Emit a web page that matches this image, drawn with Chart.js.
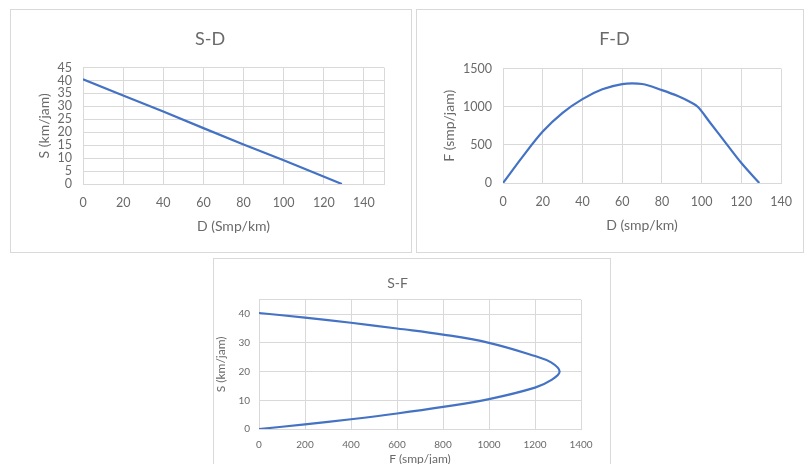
<!DOCTYPE html>
<html lang="id">
<head>
    <meta charset="UTF-8">
    <title>S-D, F-D, S-F</title>
    <script src="https://cdn.jsdelivr.net/npm/chart.js"></script>
    <style>
        body {
            margin: 0;
            background: #ffffff;
            overflow: hidden;
            font-family: Lato, sans-serif;
        }
        .box {
            position: absolute;
            border: 1px solid #d9d9d9;
            background: #ffffff;
        }
        canvas {
            display: block;
        }
    </style>
</head>
<body>

<div class="box" style="left:10px; top:9px;"><canvas id="chartSD" width="400" height="242"></canvas></div>
<div class="box" style="left:416px; top:9px;"><canvas id="chartFD" width="386" height="242"></canvas></div>
<div class="box" style="left:213px; top:258px;"><canvas id="chartSF" width="396" height="214"></canvas></div>

<script>
    // S-D (kecepatan vs kepadatan)
    const sdDensity = [0, 20, 40, 60, 80, 100, 129];
    const sdSpeed = [40.5, 34.2, 28, 21.6, 15.3, 9.2, 0];
    const sdXTicks = [0, 20, 40, 60, 80, 100, 120, 140];
    const sdYTicks = [0, 5, 10, 15, 20, 25, 30, 35, 40, 45];

    // F-D (arus vs kepadatan)
    const fdDensity = [0, 10, 20, 30, 40, 50, 60, 65, 70, 80, 88, 94, 98, 104, 112, 120, 129];
    const fdFlow = [0, 350, 675, 920, 1100, 1228, 1296, 1305, 1298, 1218, 1140, 1065, 1000, 800, 530, 262, 0];
    const fdXTicks = [0, 20, 40, 60, 80, 100, 120, 140];
    const fdYTicks = [0, 500, 1000, 1500];

    // S-F (kecepatan vs arus)
    const sfFlow = [0, 200, 400, 600, 800, 1000, 1200, 1270, 1307, 1270, 1200, 1000, 800, 600, 400, 200, 0];
    const sfSpeed = [40.4, 38.8, 37, 35, 32.9, 30, 25.4, 23.2, 20, 17, 14.4, 10.4, 7.7, 5.4, 3.4, 1.6, 0];
    const sfXTicks = [0, 200, 400, 600, 800, 1000, 1200, 1400];
    const sfYTicks = [0, 10, 20, 30, 40];

    const lineColor = '#4472C4';
    const gridColor = '#d9d9d9';
    const textColor = '#6a6a6a';

    function toPoints(xs, ys) {
        return xs.map((x, i) => ({ x: x, y: ys[i] }));
    }

    // tick list plus the axis end (gridline only, no label)
    function setTicks(list, max) {
        return s => {
            const vals = list.slice();
            if (vals[vals.length - 1] !== max) vals.push(max);
            s.ticks = vals.map(v => ({ value: v }));
        };
    }

    function makeChart(id, opt) {
        const ctx = document.getElementById(id).getContext('2d');
        return new Chart(ctx, {
            type: 'scatter',
            data: {
                datasets: [{
                    data: toPoints(opt.xs, opt.ys),
                    showLine: true,
                    borderColor: lineColor,
                    borderWidth: 2.2,
                    pointRadius: 0,
                    tension: opt.tension,
                    cubicInterpolationMode: opt.mono ? 'monotone' : 'default'
                }]
            },
            options: {
                responsive: false,
                animation: false,
                layout: { padding: opt.padding },
                plugins: {
                    legend: { display: false },
                    tooltip: { enabled: false },
                    title: {
                        display: true,
                        text: opt.title,
                        color: textColor,
                        font: { family: 'Lato', size: opt.titleSize, weight: 'normal' },
                        padding: opt.titlePad
                    }
                },
                scales: {
                    x: {
                        type: 'linear',
                        min: 0,
                        max: opt.xMax,
                        afterBuildTicks: setTicks(opt.xTicks, opt.xMax),
                        grid: { color: gridColor, drawTicks: false },
                        border: { color: gridColor },
                        ticks: {
                            padding: opt.xTickPad,
                            color: textColor,
                            autoSkip: false,
                            font: { family: 'Lato', size: opt.tickSize },
                            maxRotation: 0,
                            callback: v => (opt.xTicks.includes(v) ? v : '')
                        },
                        title: {
                            display: true,
                            text: opt.xTitle,
                            color: textColor,
                            font: { family: 'Lato', size: opt.axisTitleSize },
                            padding: 0
                        },
                        afterFit: s => { s.height = opt.xHeight; }
                    },
                    y: {
                        type: 'linear',
                        min: 0,
                        max: opt.yMax,
                        afterBuildTicks: setTicks(opt.yTicks, opt.yMax),
                        grid: { color: gridColor, drawTicks: false },
                        border: { display: false },
                        ticks: {
                            padding: opt.yTickPad,
                            color: textColor,
                            autoSkip: false,
                            font: { family: 'Lato', size: opt.tickSize },
                            callback: v => (opt.yTicks.includes(v) ? v : '')
                        },
                        title: {
                            display: true,
                            text: opt.yTitle,
                            color: textColor,
                            font: { family: 'Lato', size: opt.axisTitleSize },
                            padding: 0
                        },
                        afterFit: s => { s.width = opt.yWidth; }
                    }
                }
            }
        });
    }

    makeChart('chartSD', {
        xs: sdDensity, ys: sdSpeed, tension: 0, mono: false,
        title: 'S-D', titleSize: 18, titlePad: { top: 18, bottom: 18 },
        padding: { left: 25, right: 27, top: 0, bottom: 17 },
        xMax: 150, xTicks: sdXTicks, xTitle: 'D (Smp/km)', xHeight: 51, xTickPad: 11,
        yMax: 45, yTicks: sdYTicks, yTitle: 'S (km/jam)', yWidth: 47, yTickPad: 11,
        tickSize: 12.5, axisTitleSize: 14
    });

    makeChart('chartFD', {
        xs: fdDensity, ys: fdFlow, tension: 0.4, mono: true,
        title: 'F-D', titleSize: 18, titlePad: { top: 18, bottom: 19 },
        padding: { left: 24, right: 15, top: 0, bottom: 18 },
        xMax: 140, xTicks: fdXTicks, xTitle: 'D (smp/km)', xHeight: 51, xTickPad: 11,
        yMax: 1500, yTicks: fdYTicks, yTitle: 'F (smp/jam)', yWidth: 62, yTickPad: 11,
        tickSize: 12.5, axisTitleSize: 14
    });

    makeChart('chartSF', {
        xs: sfFlow, ys: sfSpeed, tension: 0.4, mono: false,
        title: 'S-F', titleSize: 14, titlePad: { top: 16, bottom: 8 },
        padding: { left: 0, right: 29, top: 0, bottom: 7 },
        xMax: 1400, xTicks: sfXTicks, xTitle: 'F (smp/jam)', xHeight: 37, xTickPad: 10,
        yMax: 45, yTicks: sfYTicks, yTitle: 'S (km/jam)', yWidth: 45, yTickPad: 9,
        tickSize: 10, axisTitleSize: 12
    });
</script>

</body>
</html>
